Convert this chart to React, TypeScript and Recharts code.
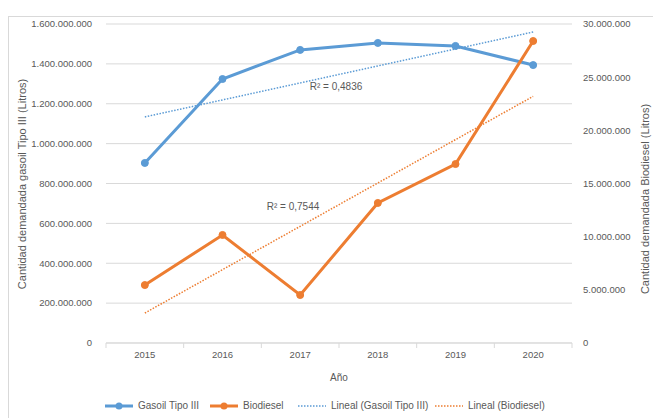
import { LineChart, Line, XAxis, YAxis, CartesianGrid } from 'recharts';

const years = ['2015', '2016', '2017', '2018', '2019', '2020'];
const gasoil = [903000000, 1324000000, 1470000000, 1505000000, 1490000000, 1394000000];
const biodiesel = [5450000, 10160000, 4510000, 13170000, 16830000, 28400000];
// trend lines: only the end points, joined straight
const gasoilTrend = [1134000000, null, null, null, null, 1560000000];
const biodieselTrend = [2820000, null, null, null, null, 23200000];
const leftTicks = [0, 200000000, 400000000, 600000000, 800000000, 1000000000, 1200000000, 1400000000, 1600000000];
const rightTicks = [0, 5000000, 10000000, 15000000, 20000000, 25000000, 30000000];

const data = years.map((year, i) => ({
  year,
  gasoil: gasoil[i],
  biodiesel: biodiesel[i],
  gasoilTrend: gasoilTrend[i],
  biodieselTrend: biodieselTrend[i],
}));

const BLUE = '#5B9BD5';
const ORANGE = '#ED7D31';
const GRID = '#D9D9D9';
const TEXT = '#595959';
const FONT = '"Liberation Sans", Arial, sans-serif';

const PLOT_LEFT = 106;
const PLOT_RIGHT = 572;
const BAND = (PLOT_RIGHT - PLOT_LEFT) / years.length;

const fmt = (v: number) => String(v).replace(/\B(?=(\d{3})+(?!\d))/g, '.');

function YearTick(props: any) {
  const { x, y, payload, index } = props;
  const axisY = 343;
  return (
    <g>
      <line x1={x - BAND / 2} x2={x - BAND / 2} y1={axisY} y2={axisY + 5} stroke={GRID} />
      {index === years.length - 1 && (
        <line x1={x + BAND / 2} x2={x + BAND / 2} y1={axisY} y2={axisY + 5} stroke={GRID} />
      )}
      <text x={x} y={y} dy="0.71em" textAnchor="middle" fontSize={9.5} fill={TEXT} fontFamily={FONT}>
        {payload.value}
      </text>
    </g>
  );
}

function LegendItem({ color, dotted, marker, label, width }: any) {
  return (
    <div style={{ display: 'flex', alignItems: 'center', width }}>
      <svg width={30} height={10}>
        <line
          x1={1}
          x2={29}
          y1={5}
          y2={5}
          stroke={color}
          strokeWidth={dotted ? 1.5 : 3}
          strokeDasharray={dotted ? '1.5 1.5' : undefined}
        />
        {marker && <circle cx={15} cy={5} r={3.5} fill={color} />}
      </svg>
      <span style={{ marginLeft: 4 }}>{label}</span>
    </div>
  );
}

export default function App() {
  return (
    <div style={{ position: 'absolute', left: 0, top: 0, width: 653, height: 418, overflow: 'hidden', background: '#fff', fontFamily: FONT, color: TEXT }}>
      {/* chart frame */}
      <div style={{ position: 'absolute', left: 8, top: 16, width: 700, height: 500, borderLeft: `1px solid ${GRID}`, borderTop: `1px solid ${GRID}` }} />

      <LineChart width={653} height={418} data={data} margin={{ top: 24, right: 0, bottom: 45, left: 0 }} style={{ position: 'absolute', left: 0, top: 0 }}>
        <CartesianGrid yAxisId="left" vertical={false} stroke={GRID} />
        <XAxis
          dataKey="year"
          height={30}
          padding={{ left: BAND / 2, right: BAND / 2 }}
          axisLine={{ stroke: GRID }}
          tickLine={false}
          tick={<YearTick />}
          interval={0}
        />
        <YAxis
          yAxisId="left"
          width={PLOT_LEFT}
          domain={[0, 1600000000]}
          ticks={leftTicks}
          tickFormatter={fmt}
          axisLine={false}
          tickLine={false}
          tickMargin={8}
          tick={{ fontSize: 9.5, fill: TEXT, fontFamily: FONT }}
        />
        <YAxis
          yAxisId="right"
          orientation="right"
          width={653 - PLOT_RIGHT}
          domain={[0, 30000000]}
          ticks={rightTicks}
          tickFormatter={fmt}
          axisLine={false}
          tickLine={false}
          tickMargin={5}
          tick={{ fontSize: 9.5, fill: TEXT, fontFamily: FONT, textAnchor: 'start' }}
        />
        <Line yAxisId="left" dataKey="gasoilTrend" stroke={BLUE} strokeWidth={1.5} strokeDasharray="1.5 1.5" dot={false} activeDot={false} connectNulls isAnimationActive={false} />
        <Line yAxisId="right" dataKey="biodieselTrend" stroke={ORANGE} strokeWidth={1.5} strokeDasharray="1.5 1.5" dot={false} activeDot={false} connectNulls isAnimationActive={false} />
        <Line yAxisId="left" dataKey="gasoil" stroke={BLUE} strokeWidth={3} dot={{ r: 3.5, fill: BLUE, stroke: BLUE, strokeWidth: 1 }} activeDot={false} isAnimationActive={false} />
        <Line yAxisId="right" dataKey="biodiesel" stroke={ORANGE} strokeWidth={3} dot={{ r: 3.5, fill: ORANGE, stroke: ORANGE, strokeWidth: 1 }} activeDot={false} isAnimationActive={false} />
      </LineChart>

      {/* axis titles */}
      <div style={{ position: 'absolute', left: 22, top: 184, transform: 'translate(-50%, -50%) rotate(-90deg)', whiteSpace: 'nowrap', fontSize: 11 }}>
        Cantidad demandada gasoil Tipo III (Litros)
      </div>
      <div style={{ position: 'absolute', left: 645, top: 199, transform: 'translate(-50%, -50%) rotate(-90deg)', whiteSpace: 'nowrap', fontSize: 11, lineHeight: '12px' }}>
        Cantidad demandada Biodiesel (Litros)
      </div>
      <div style={{ position: 'absolute', left: 339, top: 377, transform: 'translate(-50%, -50%)', fontSize: 10 }}>Año</div>

      {/* R² labels */}
      <div style={{ position: 'absolute', left: 336, top: 86, transform: 'translate(-50%, -50%)', whiteSpace: 'nowrap', fontSize: 10 }}>R² = 0,4836</div>
      <div style={{ position: 'absolute', left: 293, top: 206, transform: 'translate(-50%, -50%)', whiteSpace: 'nowrap', fontSize: 10 }}>R² = 0,7544</div>

      {/* legend */}
      <div style={{ position: 'absolute', left: 104, top: 400, display: 'flex', fontSize: 10, whiteSpace: 'nowrap' }}>
        <LegendItem color={BLUE} marker label="Gasoil Tipo III" width={105} />
        <LegendItem color={ORANGE} marker label="Biodiesel" width={88} />
        <LegendItem color={BLUE} dotted label="Lineal (Gasoil Tipo III)" width={137} />
        <LegendItem color={ORANGE} dotted label="Lineal (Biodiesel)" width={130} />
      </div>
    </div>
  );
}
